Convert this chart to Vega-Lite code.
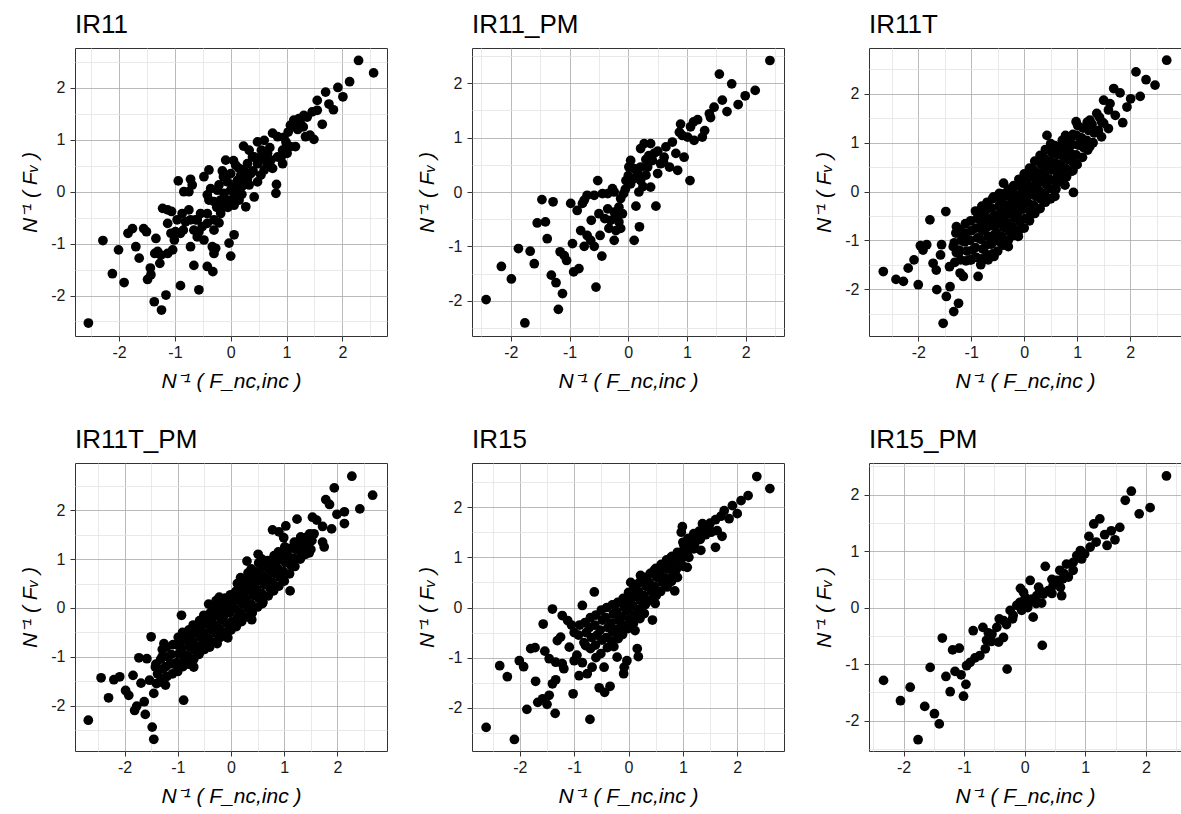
{
  "$schema": "https://vega.github.io/schema/vega-lite/v6.json",
  "background": "white",
  "padding": {"left": 19, "top": 11, "right": 0, "bottom": 0},
  "bounds": "flush",
  "columns": 3,
  "spacing": {"row": 127, "column": 85},
  "config": {
    "font": "Liberation Sans",
    "view": {"stroke": "#333333", "strokeWidth": 1},
    "title": {"anchor": "start", "frame": "group", "fontSize": 26, "fontWeight": "normal", "font": "Liberation Sans", "color": "#000000", "offset": 10},
    "axis": {
      "domain": false,
      "grid": true,
      "gridWidth": 0.8,
      "tickColor": "#333333",
      "tickSize": 5,
      "tickWidth": 1,
      "labelFont": "Liberation Sans",
      "labelColor": "#1a1a1a",
      "labelOverlap": false,
      "labelFlush": false,
      "titleFont": "Liberation Sans",
      "titleFontSize": 21,
      "titleFontStyle": "italic",
      "titleFontWeight": "normal",
      "titleColor": "#000000",
      "titlePadding": 10
    },
    "axisX": {"labelPadding": 3},
    "axisY": {"labelPadding": 5},
    "circle": {"color": "#000000", "opacity": 1, "size": 95}
  },
  "datasets": {
    "IR11": [
      {"x":-2.55,"y":-2.53},{"x":2.29,"y":2.53},{"x":2.56,"y":2.29},{"x":2.13,"y":2.12},{"x":1.92,"y":2.01},{"x":2.01,"y":1.83},{"x":1.70,"y":1.92},{"x":1.55,"y":1.76},{"x":1.76,"y":1.69},{"x":1.84,"y":1.58},{"x":1.64,"y":1.30},{"x":1.49,"y":1.01},{"x":1.42,"y":1.09},{"x":1.34,"y":1.06},{"x":1.46,"y":1.54},{"x":1.31,"y":1.47},{"x":1.22,"y":1.41},{"x":1.13,"y":1.38},{"x":1.07,"y":1.28},{"x":1.16,"y":1.25},{"x":1.25,"y":1.31},{"x":1.37,"y":1.44},{"x":1.55,"y":1.57},{"x":1.03,"y":1.15},{"x":1.07,"y":0.87},{"x":0.99,"y":0.96},{"x":0.93,"y":0.80},{"x":1.01,"y":0.74},{"x":1.16,"y":0.87},{"x":0.75,"y":1.13},{"x":0.84,"y":1.06},{"x":0.60,"y":0.99},{"x":0.48,"y":0.96},{"x":0.66,"y":0.74},{"x":0.54,"y":0.67},{"x":0.42,"y":0.67},{"x":0.48,"y":0.54},{"x":0.72,"y":0.61},{"x":0.84,"y":0.67},{"x":0.93,"y":0.54},{"x":0.75,"y":0.45},{"x":0.66,"y":0.51},{"x":0.23,"y":0.88},{"x":0.33,"y":0.80},{"x":0.30,"y":0.54},{"x":0.39,"y":0.67},{"x":0.36,"y":0.35},{"x":0.48,"y":0.19},{"x":0.33,"y":0.13},{"x":0.42,"y":-0.10},{"x":0.27,"y":-0.29},{"x":0.54,"y":0.32},{"x":0.60,"y":0.42},{"x":0.82,"y":0.14},{"x":0.81,"y":-0.03},{"x":-0.09,"y":0.61},{"x":0.09,"y":0.51},{"x":0.15,"y":0.45},{"x":0.0,"y":0.35},{"x":0.18,"y":0.32},{"x":0.12,"y":0.22},{"x":0.24,"y":0.42},{"x":0.06,"y":0.13},{"x":-0.06,"y":0.19},{"x":-0.13,"y":0.29},{"x":-0.21,"y":0.13},{"x":0.0,"y":0.03},{"x":0.06,"y":-0.10},{"x":-0.06,"y":-0.16},{"x":-0.12,"y":-0.03},{"x":-0.18,"y":-0.16},{"x":-0.24,"y":0.03},{"x":-0.30,"y":-0.19},{"x":-0.39,"y":-0.16},{"x":-0.42,"y":-0.06},{"x":-0.36,"y":0.06},{"x":-0.48,"y":0.29},{"x":-0.39,"y":0.42},{"x":-0.18,"y":-0.42},{"x":-0.12,"y":-0.29},{"x":0.06,"y":-0.26},{"x":0.15,"y":-0.16},{"x":-0.21,"y":-0.60},{"x":-0.30,"y":-0.54},{"x":-0.42,"y":-0.42},{"x":-0.54,"y":-0.42},{"x":-0.60,"y":-0.54},{"x":-0.51,"y":-0.67},{"x":-0.42,"y":-0.61},{"x":-0.30,"y":-0.74},{"x":-0.48,"y":-0.93},{"x":-0.57,"y":-0.77},{"x":-0.94,"y":0.21},{"x":-0.72,"y":0.24},{"x":-0.69,"y":0.13},{"x":-0.84,"y":0.0},{"x":-0.75,"y":0.0},{"x":-0.75,"y":-0.35},{"x":-0.87,"y":-0.42},{"x":-0.96,"y":-0.54},{"x":-0.81,"y":-0.58},{"x":-0.72,"y":-0.54},{"x":-0.63,"y":-0.54},{"x":-0.85,"y":-0.74},{"x":-0.99,"y":-0.77},{"x":-0.90,"y":-0.80},{"x":-1.01,"y":-0.93},{"x":-1.07,"y":-0.80},{"x":-1.13,"y":-0.61},{"x":-1.22,"y":-0.32},{"x":-1.13,"y":-0.35},{"x":-1.06,"y":-0.38},{"x":-0.72,"y":-1.06},{"x":-0.60,"y":-0.87},{"x":-0.66,"y":-0.74},{"x":-1.04,"y":-1.12},{"x":-1.13,"y":-1.19},{"x":-1.25,"y":-1.22},{"x":-1.31,"y":-1.15},{"x":-1.27,"y":-1.38},{"x":-1.36,"y":-1.19},{"x":-1.34,"y":-0.90},{"x":-1.51,"y":-0.77},{"x":-1.56,"y":-0.71},{"x":-1.76,"y":-0.71},{"x":-1.84,"y":-0.80},{"x":-1.70,"y":-1.06},{"x":-1.64,"y":-1.28},{"x":-2.01,"y":-1.12},{"x":-2.29,"y":-0.94},{"x":-2.12,"y":-1.58},{"x":-1.91,"y":-1.75},{"x":-1.49,"y":-1.69},{"x":-1.43,"y":-1.60},{"x":-1.44,"y":-1.47},{"x":-1.37,"y":-2.12},{"x":-1.24,"y":-2.28},{"x":-1.16,"y":-1.99},{"x":-0.90,"y":-1.81},{"x":-0.57,"y":-1.89},{"x":-0.66,"y":-1.42},{"x":-0.42,"y":-1.44},{"x":-0.32,"y":-1.54},{"x":-0.30,"y":-1.19},{"x":-0.27,"y":-1.09},{"x":-0.33,"y":-1.06},{"x":0.0,"y":-1.24},{"x":-0.03,"y":-0.99},{"x":0.06,"y":-0.83},
      {"x":0.2,"y":0.1},{"x":0.3,"y":0.25},{"x":0.1,"y":0.0},{"x":0.5,"y":0.6},{"x":0.6,"y":0.65},{"x":0.7,"y":0.85},{"x":0.9,"y":0.65},{"x":1.0,"y":0.9},{"x":0.55,"y":0.8},{"x":0.65,"y":0.55},{"x":-0.15,"y":0.4},{"x":0.05,"y":0.6},{"x":-0.05,"y":-0.3},{"x":-0.25,"y":-0.3},{"x":0.2,"y":-0.05},{"x":1.2,"y":1.2},{"x":1.3,"y":1.25},{"x":0.95,"y":1.05},{"x":0.4,"y":0.4},{"x":0.25,"y":0.25}
    ],
    "IR11_PM": [
      {"x":2.41,"y":2.42},{"x":1.55,"y":2.17},{"x":1.76,"y":1.99},{"x":2.16,"y":1.87},{"x":1.99,"y":1.77},{"x":1.87,"y":1.61},{"x":1.60,"y":1.69},{"x":1.68,"y":1.48},{"x":1.46,"y":1.56},{"x":1.38,"y":1.44},{"x":1.40,"y":1.37},{"x":1.18,"y":1.33},{"x":1.30,"y":1.13},{"x":1.26,"y":1.01},{"x":1.11,"y":1.29},{"x":1.06,"y":1.20},{"x":0.89,"y":1.25},{"x":0.87,"y":1.10},{"x":0.92,"y":1.04},{"x":1.01,"y":1.01},{"x":1.12,"y":0.95},{"x":1.05,"y":0.21},{"x":0.95,"y":0.64},{"x":0.75,"y":0.92},{"x":0.64,"y":0.83},{"x":0.61,"y":0.64},{"x":0.81,"y":0.71},{"x":0.84,"y":0.40},{"x":0.70,"y":0.46},{"x":0.55,"y":0.52},{"x":0.44,"y":0.71},{"x":0.38,"y":0.89},{"x":0.41,"y":0.58},{"x":0.50,"y":0.34},{"x":0.33,"y":0.46},{"x":0.27,"y":0.89},{"x":0.21,"y":0.80},{"x":0.35,"y":0.67},{"x":0.21,"y":0.46},{"x":0.10,"y":0.43},{"x":0.04,"y":0.58},{"x":0.01,"y":0.46},{"x":0.16,"y":0.34},{"x":0.10,"y":0.25},{"x":-0.04,"y":0.21},{"x":0.04,"y":0.15},{"x":0.21,"y":0.21},{"x":0.30,"y":0.31},{"x":0.38,"y":0.09},{"x":0.47,"y":-0.26},{"x":0.13,"y":-0.26},{"x":0.18,"y":0.0},{"x":0.19,"y":-0.64},{"x":0.10,"y":-0.89},{"x":-0.08,"y":-0.03},{"x":-0.13,"y":-0.12},{"x":-0.24,"y":0.0},{"x":-0.27,"y":0.06},{"x":-0.35,"y":-0.03},{"x":-0.44,"y":-0.03},{"x":-0.52,"y":0.21},{"x":-0.58,"y":-0.06},{"x":-0.70,"y":-0.06},{"x":-0.75,"y":-0.15},{"x":-0.78,"y":-0.21},{"x":-0.87,"y":-0.34},{"x":-0.98,"y":-0.21},{"x":-0.16,"y":-0.28},{"x":-0.24,"y":-0.37},{"x":-0.35,"y":-0.31},{"x":-0.40,"y":-0.49},{"x":-0.30,"y":-0.52},{"x":-0.10,"y":-0.40},{"x":-0.16,"y":-0.55},{"x":-0.13,"y":-0.67},{"x":-0.21,"y":-0.71},{"x":-0.33,"y":-0.67},{"x":-0.24,"y":-0.89},{"x":-0.63,"y":-0.52},{"x":-0.81,"y":-0.71},{"x":-0.70,"y":-0.80},{"x":-0.64,"y":-0.89},{"x":-0.75,"y":-1.0},{"x":-0.58,"y":-1.0},{"x":-0.48,"y":-0.80},{"x":-0.95,"y":-0.95},{"x":-0.45,"y":-1.18},{"x":-0.55,"y":-1.75},{"x":-1.47,"y":-0.14},{"x":-1.28,"y":-0.18},{"x":-1.55,"y":-0.57},{"x":-1.41,"y":-0.55},{"x":-1.38,"y":-0.86},{"x":-1.16,"y":-1.10},{"x":-1.09,"y":-1.17},{"x":-1.05,"y":-1.26},{"x":-0.93,"y":-1.47},{"x":-0.84,"y":-1.41},{"x":-1.31,"y":-1.53},{"x":-1.23,"y":-1.67},{"x":-1.12,"y":-1.87},{"x":-1.19,"y":-2.16},{"x":-1.67,"y":-1.09},{"x":-1.60,"y":-1.32},{"x":-1.87,"y":-1.04},{"x":-2.16,"y":-1.37},{"x":-1.99,"y":-1.60},{"x":-2.42,"y":-1.98},{"x":-1.76,"y":-2.41},
      {"x":0.6,"y":0.55},{"x":0.5,"y":0.75},{"x":0.3,"y":0.6},{"x":0.0,"y":0.3},{"x":-0.05,"y":0.05},{"x":0.25,"y":0.1},{"x":-0.2,"y":-0.45},{"x":-0.5,"y":-0.4}
    ],
    "IR11T": [
      {"x":2.69,"y":2.69},{"x":2.11,"y":2.45},{"x":2.30,"y":2.29},{"x":2.47,"y":2.18},{"x":2.19,"y":1.95},{"x":2.01,"y":1.90},{"x":1.94,"y":1.73},{"x":1.69,"y":2.11},{"x":1.81,"y":2.02},{"x":1.86,"y":1.41},{"x":1.72,"y":1.56},{"x":1.50,"y":1.87},{"x":1.62,"y":1.80},{"x":1.59,"y":1.67},{"x":1.37,"y":1.60},{"x":1.46,"y":1.43},{"x":1.59,"y":1.29},{"x":1.46,"y":1.12},{"x":1.24,"y":0.92},{"x":1.24,"y":1.46},{"x":0.98,"y":1.43},{"x":0.92,"y":1.17},{"x":1.06,"y":1.05},{"x":0.94,"y":0.68},{"x":0.92,"y":0.43},{"x":0.80,"y":0.98},{"x":0.68,"y":0.92},{"x":0.43,"y":1.15},{"x":0.93,"y":-0.02},{"x":0.77,"y":0.13},{"x":0.61,"y":0.27},{"x":0.58,"y":-0.10},{"x":0.46,"y":-0.14},{"x":0.17,"y":-0.45},{"x":-0.11,"y":-0.92},{"x":-0.30,"y":-1.13},{"x":-0.39,"y":0.17},{"x":-0.58,"y":-0.11},{"x":-0.57,"y":-1.33},{"x":-0.68,"y":-1.40},{"x":-0.87,"y":-1.74},{"x":-0.82,"y":-1.50},{"x":-1.02,"y":-1.40},{"x":-1.15,"y":-1.74},{"x":-1.21,"y":-1.67},{"x":-1.24,"y":-2.29},{"x":-1.33,"y":-2.46},{"x":-1.40,"y":-1.95},{"x":-1.47,"y":-2.15},{"x":-1.53,"y":-2.70},{"x":-1.65,"y":-2.01},{"x":-1.41,"y":-1.54},{"x":-1.58,"y":-1.30},{"x":-1.56,"y":-1.09},{"x":-1.48,"y":-0.41},{"x":-1.78,"y":-0.58},{"x":-1.72,"y":-1.47},{"x":-1.66,"y":-1.61},{"x":-1.84,"y":-1.09},{"x":-1.91,"y":-1.20},{"x":-1.96,"y":-1.11},{"x":-2.08,"y":-1.40},{"x":-2.19,"y":-1.57},{"x":-2.00,"y":-1.91},{"x":-2.28,"y":-1.84},{"x":-2.42,"y":-1.80},{"x":-2.66,"y":-1.64},{"x":-1.34,"y":-1.13},{"x":-1.24,"y":-1.26},{"x":-1.28,"y":-0.72},{"x":-1.15,"y":-0.86},
      {"x":-1.31,"y":-1.45},{"x":-1.28,"y":-1.25},{"x":-1.32,"y":-1.05},{"x":-1.29,"y":-0.85},
      {"x":-1.2,"y":-1.4},{"x":-1.22,"y":-1.2},{"x":-1.19,"y":-1.0},{"x":-1.21,"y":-0.8},
      {"x":-1.1,"y":-1.42},{"x":-1.08,"y":-1.22},{"x":-1.12,"y":-1.03},{"x":-1.09,"y":-0.85},{"x":-1.11,"y":-0.66},
      {"x":-1.0,"y":-1.4},{"x":-0.98,"y":-1.2},{"x":-1.02,"y":-1.0},{"x":-0.99,"y":-0.8},{"x":-1.01,"y":-0.6},
      {"x":-0.9,"y":-1.35},{"x":-0.92,"y":-1.15},{"x":-0.88,"y":-0.95},{"x":-0.91,"y":-0.75},{"x":-0.89,"y":-0.55},{"x":-0.92,"y":-0.4},
      {"x":-0.8,"y":-1.38},{"x":-0.78,"y":-1.18},{"x":-0.82,"y":-0.98},{"x":-0.79,"y":-0.8},{"x":-0.81,"y":-0.62},{"x":-0.78,"y":-0.45},{"x":-0.8,"y":-0.3},
      {"x":-0.7,"y":-1.3},{"x":-0.72,"y":-1.1},{"x":-0.68,"y":-0.92},{"x":-0.71,"y":-0.74},{"x":-0.69,"y":-0.56},{"x":-0.72,"y":-0.38},{"x":-0.7,"y":-0.22},
      {"x":-0.6,"y":-1.28},{"x":-0.62,"y":-1.08},{"x":-0.58,"y":-0.9},{"x":-0.61,"y":-0.7},{"x":-0.59,"y":-0.52},{"x":-0.62,"y":-0.34},{"x":-0.6,"y":-0.15},
      {"x":-0.5,"y":-1.22},{"x":-0.48,"y":-1.02},{"x":-0.52,"y":-0.84},{"x":-0.49,"y":-0.66},{"x":-0.51,"y":-0.48},{"x":-0.48,"y":-0.3},{"x":-0.5,"y":-0.12},{"x":-0.47,"y":-0.04},
      {"x":-0.4,"y":-1.1},{"x":-0.42,"y":-0.92},{"x":-0.38,"y":-0.74},{"x":-0.41,"y":-0.56},{"x":-0.39,"y":-0.38},{"x":-0.42,"y":-0.2},{"x":-0.4,"y":-0.05},
      {"x":-0.3,"y":-1.0},{"x":-0.28,"y":-0.82},{"x":-0.32,"y":-0.64},{"x":-0.29,"y":-0.46},{"x":-0.31,"y":-0.28},{"x":-0.28,"y":-0.1},{"x":-0.3,"y":0.05},
      {"x":-0.2,"y":-0.9},{"x":-0.22,"y":-0.72},{"x":-0.18,"y":-0.54},{"x":-0.21,"y":-0.36},{"x":-0.19,"y":-0.18},{"x":-0.22,"y":0.0},{"x":-0.2,"y":0.12},
      {"x":-0.1,"y":-0.8},{"x":-0.08,"y":-0.62},{"x":-0.12,"y":-0.44},{"x":-0.09,"y":-0.26},{"x":-0.11,"y":-0.08},{"x":-0.08,"y":0.1},{"x":-0.1,"y":0.25},
      {"x":0.0,"y":-0.75},{"x":0.02,"y":-0.55},{"x":-0.02,"y":-0.36},{"x":0.01,"y":-0.18},{"x":-0.01,"y":0.0},{"x":0.02,"y":0.18},{"x":0.0,"y":0.36},
      {"x":0.1,"y":-0.6},{"x":0.12,"y":-0.42},{"x":0.08,"y":-0.24},{"x":0.11,"y":-0.06},{"x":0.09,"y":0.12},{"x":0.12,"y":0.3},{"x":0.1,"y":0.48},
      {"x":0.2,"y":-0.45},{"x":0.18,"y":-0.28},{"x":0.22,"y":-0.1},{"x":0.19,"y":0.08},{"x":0.21,"y":0.26},{"x":0.18,"y":0.44},{"x":0.2,"y":0.62},
      {"x":0.3,"y":-0.35},{"x":0.32,"y":-0.16},{"x":0.28,"y":0.02},{"x":0.31,"y":0.2},{"x":0.29,"y":0.38},{"x":0.32,"y":0.56},{"x":0.3,"y":0.74},
      {"x":0.4,"y":-0.22},{"x":0.38,"y":-0.04},{"x":0.42,"y":0.14},{"x":0.39,"y":0.32},{"x":0.41,"y":0.5},{"x":0.38,"y":0.68},{"x":0.4,"y":0.86},
      {"x":0.5,"y":-0.15},{"x":0.52,"y":0.05},{"x":0.48,"y":0.25},{"x":0.51,"y":0.44},{"x":0.49,"y":0.62},{"x":0.52,"y":0.8},{"x":0.5,"y":0.98},
      {"x":0.6,"y":0.05},{"x":0.58,"y":0.22},{"x":0.62,"y":0.4},{"x":0.59,"y":0.58},{"x":0.61,"y":0.76},{"x":0.58,"y":0.94},
      {"x":0.7,"y":0.2},{"x":0.72,"y":0.38},{"x":0.68,"y":0.56},{"x":0.71,"y":0.74},{"x":0.69,"y":0.92},{"x":0.72,"y":1.05},
      {"x":0.8,"y":0.3},{"x":0.78,"y":0.48},{"x":0.82,"y":0.66},{"x":0.79,"y":0.84},{"x":0.81,"y":1.0},{"x":0.78,"y":1.15},
      {"x":0.9,"y":0.42},{"x":0.92,"y":0.6},{"x":0.88,"y":0.78},{"x":0.91,"y":0.96},{"x":0.89,"y":1.12},
      {"x":1.0,"y":0.55},{"x":0.98,"y":0.75},{"x":1.02,"y":0.95},{"x":0.99,"y":1.15},{"x":1.01,"y":1.35},
      {"x":1.1,"y":0.7},{"x":1.12,"y":0.9},{"x":1.08,"y":1.1},{"x":1.11,"y":1.3},
      {"x":1.2,"y":0.85},{"x":1.18,"y":1.05},{"x":1.22,"y":1.25},{"x":1.19,"y":1.42},
      {"x":1.3,"y":1.0},{"x":1.32,"y":1.2},{"x":1.28,"y":1.38},{"x":1.4,"y":1.25},{"x":1.5,"y":1.4},{"x":1.42,"y":1.52}
    ],
    "IR11T_PM": [
      {"x":2.27,"y":2.70},{"x":2.66,"y":2.31},{"x":2.42,"y":2.03},{"x":1.94,"y":2.46},{"x":1.78,"y":2.22},{"x":1.85,"y":2.12},{"x":2.13,"y":1.97},{"x":1.99,"y":1.92},{"x":2.13,"y":1.73},{"x":1.89,"y":1.62},{"x":1.72,"y":1.67},{"x":1.53,"y":1.86},{"x":1.61,"y":1.80},{"x":1.24,"y":1.82},{"x":1.03,"y":1.68},{"x":0.78,"y":1.60},{"x":0.90,"y":1.56},{"x":0.99,"y":1.44},{"x":1.56,"y":1.52},{"x":1.31,"y":1.45},{"x":1.44,"y":1.32},{"x":1.72,"y":1.35},{"x":1.75,"y":1.25},{"x":1.47,"y":1.13},{"x":1.31,"y":1.04},{"x":1.19,"y":1.22},{"x":1.11,"y":0.35},{"x":0.99,"y":0.57},{"x":0.59,"y":0.09},{"x":0.39,"y":-0.24},{"x":0.30,"y":0.96},{"x":0.51,"y":1.10},{"x":-0.06,"y":-0.61},{"x":-0.26,"y":-0.73},{"x":-0.70,"y":-1.21},{"x":-0.93,"y":-0.15},{"x":-0.89,"y":-1.89},{"x":-1.50,"y":-0.59},{"x":-1.73,"y":-1.02},{"x":-1.58,"y":-1.04},{"x":-1.42,"y":-1.21},{"x":-1.34,"y":-1.52},{"x":-1.45,"y":-1.75},{"x":-1.23,"y":-1.58},{"x":-1.53,"y":-1.48},{"x":-1.69,"y":-1.54},{"x":-1.84,"y":-1.38},{"x":-1.63,"y":-1.92},{"x":-1.77,"y":-2.01},{"x":-1.81,"y":-2.10},{"x":-1.61,"y":-2.18},{"x":-1.48,"y":-2.44},{"x":-1.45,"y":-2.69},{"x":-1.92,"y":-1.79},{"x":-1.98,"y":-1.69},{"x":-2.09,"y":-1.41},{"x":-2.20,"y":-1.47},{"x":-2.44,"y":-1.43},{"x":-2.30,"y":-1.84},{"x":-2.68,"y":-2.30},{"x":-1.26,"y":-0.73},{"x":-1.29,"y":-1.0},{"x":-1.14,"y":-1.14},
      {"x":-1.4,"y":-1.55},{"x":-1.38,"y":-1.35},{"x":-1.41,"y":-1.15},
      {"x":-1.3,"y":-1.45},{"x":-1.28,"y":-1.25},{"x":-1.32,"y":-1.05},{"x":-1.29,"y":-0.85},
      {"x":-1.2,"y":-1.4},{"x":-1.22,"y":-1.2},{"x":-1.18,"y":-1.0},{"x":-1.21,"y":-0.8},
      {"x":-1.1,"y":-1.35},{"x":-1.08,"y":-1.15},{"x":-1.12,"y":-0.95},{"x":-1.09,"y":-0.75},
      {"x":-1.0,"y":-1.3},{"x":-1.02,"y":-1.12},{"x":-0.98,"y":-0.94},{"x":-1.01,"y":-0.76},{"x":-0.99,"y":-0.6},
      {"x":-0.9,"y":-1.2},{"x":-0.88,"y":-1.02},{"x":-0.92,"y":-0.84},{"x":-0.89,"y":-0.66},{"x":-0.91,"y":-0.5},
      {"x":-0.8,"y":-1.15},{"x":-0.82,"y":-0.97},{"x":-0.78,"y":-0.79},{"x":-0.81,"y":-0.61},{"x":-0.79,"y":-0.45},
      {"x":-0.7,"y":-1.05},{"x":-0.68,"y":-0.87},{"x":-0.72,"y":-0.69},{"x":-0.69,"y":-0.51},{"x":-0.71,"y":-0.35},
      {"x":-0.6,"y":-0.95},{"x":-0.62,"y":-0.78},{"x":-0.58,"y":-0.6},{"x":-0.61,"y":-0.42},{"x":-0.59,"y":-0.26},
      {"x":-0.5,"y":-0.85},{"x":-0.48,"y":-0.68},{"x":-0.52,"y":-0.5},{"x":-0.49,"y":-0.32},{"x":-0.51,"y":-0.15},
      {"x":-0.4,"y":-0.8},{"x":-0.42,"y":-0.62},{"x":-0.38,"y":-0.44},{"x":-0.41,"y":-0.26},{"x":-0.39,"y":-0.1},{"x":-0.42,"y":0.08},
      {"x":-0.3,"y":-0.7},{"x":-0.28,"y":-0.52},{"x":-0.32,"y":-0.34},{"x":-0.29,"y":-0.16},{"x":-0.31,"y":0.02},{"x":-0.28,"y":0.15},
      {"x":-0.2,"y":-0.6},{"x":-0.22,"y":-0.42},{"x":-0.18,"y":-0.24},{"x":-0.21,"y":-0.06},{"x":-0.19,"y":0.1},{"x":-0.22,"y":0.22},
      {"x":-0.1,"y":-0.5},{"x":-0.08,"y":-0.32},{"x":-0.12,"y":-0.14},{"x":-0.09,"y":0.04},{"x":-0.11,"y":0.2},
      {"x":0.0,"y":-0.45},{"x":0.02,"y":-0.27},{"x":-0.02,"y":-0.09},{"x":0.01,"y":0.09},{"x":-0.01,"y":0.27},
      {"x":0.1,"y":-0.38},{"x":0.12,"y":-0.2},{"x":0.08,"y":-0.02},{"x":0.11,"y":0.16},{"x":0.09,"y":0.34},{"x":0.12,"y":0.5},
      {"x":0.2,"y":-0.28},{"x":0.18,"y":-0.1},{"x":0.22,"y":0.08},{"x":0.19,"y":0.26},{"x":0.21,"y":0.44},{"x":0.18,"y":0.62},
      {"x":0.3,"y":-0.18},{"x":0.32,"y":0.0},{"x":0.28,"y":0.18},{"x":0.31,"y":0.36},{"x":0.29,"y":0.54},{"x":0.32,"y":0.72},
      {"x":0.4,"y":-0.1},{"x":0.38,"y":0.08},{"x":0.42,"y":0.26},{"x":0.39,"y":0.44},{"x":0.41,"y":0.62},{"x":0.38,"y":0.8},
      {"x":0.5,"y":0.02},{"x":0.52,"y":0.2},{"x":0.48,"y":0.38},{"x":0.51,"y":0.56},{"x":0.49,"y":0.74},{"x":0.52,"y":0.92},
      {"x":0.6,"y":0.12},{"x":0.58,"y":0.3},{"x":0.62,"y":0.48},{"x":0.59,"y":0.66},{"x":0.61,"y":0.84},{"x":0.58,"y":1.0},
      {"x":0.7,"y":0.25},{"x":0.72,"y":0.43},{"x":0.68,"y":0.61},{"x":0.71,"y":0.79},{"x":0.69,"y":0.97},
      {"x":0.8,"y":0.35},{"x":0.78,"y":0.53},{"x":0.82,"y":0.71},{"x":0.79,"y":0.89},{"x":0.81,"y":1.07},
      {"x":0.9,"y":0.45},{"x":0.92,"y":0.63},{"x":0.88,"y":0.81},{"x":0.91,"y":0.99},{"x":0.89,"y":1.15},
      {"x":1.0,"y":0.55},{"x":0.98,"y":0.75},{"x":1.02,"y":0.93},{"x":0.99,"y":1.1},{"x":1.01,"y":1.25},
      {"x":1.1,"y":0.7},{"x":1.12,"y":0.88},{"x":1.08,"y":1.05},{"x":1.11,"y":1.22},
      {"x":1.2,"y":0.85},{"x":1.18,"y":1.02},{"x":1.22,"y":1.2},{"x":1.19,"y":1.35},
      {"x":1.3,"y":1.0},{"x":1.32,"y":1.15},{"x":1.28,"y":1.3},{"x":1.31,"y":1.45},
      {"x":1.4,"y":1.1},{"x":1.38,"y":1.28},{"x":1.42,"y":1.45},
      {"x":1.5,"y":1.2},{"x":1.52,"y":1.38},{"x":1.48,"y":1.52}
    ],
    "IR15": [
      {"x":2.36,"y":2.61},{"x":2.60,"y":2.37},{"x":2.20,"y":2.23},{"x":2.07,"y":2.13},{"x":1.91,"y":2.03},{"x":2.00,"y":1.87},{"x":1.85,"y":1.77},{"x":1.76,"y":1.93},{"x":1.72,"y":1.42},{"x":1.60,"y":1.20},{"x":1.63,"y":1.53},{"x":1.48,"y":1.57},{"x":1.36,"y":1.67},{"x":0.99,"y":1.61},{"x":0.97,"y":1.50},{"x":1.20,"y":1.47},{"x":1.08,"y":1.34},{"x":1.02,"y":1.24},{"x":1.20,"y":1.17},{"x":1.33,"y":1.14},{"x":1.11,"y":1.00},{"x":1.08,"y":0.80},{"x":0.90,"y":0.60},{"x":0.85,"y":0.33},{"x":0.78,"y":1.00},{"x":0.65,"y":0.80},{"x":0.47,"y":0.74},{"x":0.22,"y":0.64},{"x":0.04,"y":0.50},{"x":0.44,"y":-0.25},{"x":0.12,"y":-0.46},{"x":0.16,"y":-0.82},{"x":0.18,"y":-0.98},{"x":-0.08,"y":-1.19},{"x":-0.03,"y":-1.06},{"x":-0.09,"y":-1.32},{"x":-0.21,"y":-0.99},{"x":-0.27,"y":-0.78},{"x":-0.45,"y":-1.19},{"x":-0.71,"y":-2.23},{"x":-0.34,"y":-1.57},{"x":-0.44,"y":-1.69},{"x":-0.54,"y":-1.60},{"x":-0.63,"y":0.31},{"x":-0.85,"y":0.04},{"x":-1.40,"y":-0.03},{"x":-1.57,"y":-0.33},{"x":-1.22,"y":-0.16},{"x":-1.12,"y":-0.26},{"x":-1.31,"y":-0.66},{"x":-1.25,"y":-0.59},{"x":-1.09,"y":-0.79},{"x":-1.54,"y":-0.87},{"x":-1.46,"y":-1.02},{"x":-1.34,"y":-1.09},{"x":-1.22,"y":-1.12},{"x":-1.19,"y":-1.22},{"x":-1.00,"y":-1.06},{"x":-0.91,"y":-1.36},{"x":-1.02,"y":-1.72},{"x":-1.34,"y":-1.44},{"x":-1.40,"y":-1.52},{"x":-1.35,"y":-2.11},{"x":-1.46,"y":-1.75},{"x":-1.58,"y":-1.82},{"x":-1.67,"y":-1.89},{"x":-1.50,"y":-1.93},{"x":-1.87,"y":-2.03},{"x":-1.71,"y":-1.47},{"x":-1.80,"y":-0.82},{"x":-1.72,"y":-0.80},{"x":-2.01,"y":-1.06},{"x":-1.93,"y":-1.18},{"x":-2.37,"y":-1.16},{"x":-2.23,"y":-1.38},{"x":-2.62,"y":-2.39},{"x":-2.10,"y":-2.63},{"x":-0.79,"y":-0.76},{"x":-0.70,"y":-0.82},{"x":-0.51,"y":-0.92},{"x":-0.67,"y":-1.19},{"x":-0.76,"y":-1.32},{"x":-0.95,"y":-0.95},{"x":-0.85,"y":-1.1},{"x":-0.6,"y":-1.0},{"x":-1.0,"y":-0.5},{"x":-1.05,"y":-0.35},
      {"x":-0.9,"y":-0.35},{"x":-0.92,"y":-0.55},
      {"x":-0.8,"y":-0.3},{"x":-0.78,"y":-0.5},{"x":-0.82,"y":-0.7},
      {"x":-0.7,"y":-0.2},{"x":-0.72,"y":-0.4},{"x":-0.68,"y":-0.6},
      {"x":-0.6,"y":-0.15},{"x":-0.62,"y":-0.35},{"x":-0.58,"y":-0.55},{"x":-0.61,"y":-0.75},
      {"x":-0.5,"y":-0.05},{"x":-0.48,"y":-0.25},{"x":-0.52,"y":-0.45},{"x":-0.49,"y":-0.65},
      {"x":-0.4,"y":0.0},{"x":-0.42,"y":-0.2},{"x":-0.38,"y":-0.4},{"x":-0.41,"y":-0.6},{"x":-0.39,"y":-0.8},
      {"x":-0.3,"y":0.05},{"x":-0.28,"y":-0.13},{"x":-0.32,"y":-0.31},{"x":-0.29,"y":-0.49},{"x":-0.31,"y":-0.67},
      {"x":-0.2,"y":0.1},{"x":-0.22,"y":-0.08},{"x":-0.18,"y":-0.26},{"x":-0.21,"y":-0.44},{"x":-0.19,"y":-0.62},
      {"x":-0.1,"y":0.18},{"x":-0.08,"y":0.0},{"x":-0.12,"y":-0.18},{"x":-0.09,"y":-0.36},{"x":-0.11,"y":-0.54},
      {"x":0.0,"y":0.3},{"x":0.02,"y":0.12},{"x":-0.02,"y":-0.06},{"x":0.01,"y":-0.24},{"x":-0.01,"y":-0.42},
      {"x":0.1,"y":0.4},{"x":0.12,"y":0.22},{"x":0.08,"y":0.04},{"x":0.11,"y":-0.14},{"x":0.09,"y":-0.32},
      {"x":0.2,"y":0.5},{"x":0.18,"y":0.32},{"x":0.22,"y":0.14},{"x":0.19,"y":-0.04},{"x":0.21,"y":-0.22},
      {"x":0.3,"y":0.6},{"x":0.32,"y":0.42},{"x":0.28,"y":0.24},{"x":0.31,"y":0.06},{"x":0.29,"y":-0.12},
      {"x":0.4,"y":0.68},{"x":0.38,"y":0.5},{"x":0.42,"y":0.32},{"x":0.39,"y":0.14},
      {"x":0.5,"y":0.78},{"x":0.52,"y":0.6},{"x":0.48,"y":0.42},{"x":0.51,"y":0.24},{"x":0.49,"y":0.08},
      {"x":0.6,"y":0.86},{"x":0.58,"y":0.68},{"x":0.62,"y":0.5},{"x":0.59,"y":0.32},
      {"x":0.7,"y":0.95},{"x":0.72,"y":0.77},{"x":0.68,"y":0.59},{"x":0.71,"y":0.41},
      {"x":0.8,"y":1.02},{"x":0.78,"y":0.85},{"x":0.82,"y":0.68},{"x":0.79,"y":0.52},
      {"x":0.9,"y":1.1},{"x":0.92,"y":0.93},{"x":0.88,"y":0.76},
      {"x":1.0,"y":1.3},{"x":1.02,"y":1.15},{"x":0.98,"y":0.98},{"x":1.01,"y":0.82},
      {"x":1.1,"y":1.38},{"x":1.12,"y":1.22},{"x":1.08,"y":1.06},
      {"x":1.2,"y":1.42},{"x":1.22,"y":1.28},
      {"x":1.3,"y":1.52},{"x":1.32,"y":1.36},
      {"x":1.4,"y":1.6},{"x":1.42,"y":1.45},
      {"x":1.5,"y":1.68},{"x":1.52,"y":1.5},
      {"x":1.6,"y":1.75},{"x":1.7,"y":1.82}
    ],
    "IR15_PM": [
      {"x":2.34,"y":2.33},{"x":1.76,"y":2.06},{"x":1.66,"y":1.90},{"x":2.07,"y":1.77},{"x":1.89,"y":1.66},{"x":1.57,"y":1.42},{"x":1.43,"y":1.36},{"x":1.32,"y":1.29},{"x":1.49,"y":1.20},{"x":1.36,"y":1.10},{"x":1.24,"y":1.57},{"x":1.14,"y":1.48},{"x":1.06,"y":1.26},{"x":1.18,"y":1.16},{"x":1.08,"y":1.07},{"x":0.99,"y":0.95},{"x":0.92,"y":1.01},{"x":0.86,"y":0.92},{"x":0.94,"y":0.86},{"x":0.80,"y":0.80},{"x":0.69,"y":0.77},{"x":0.80,"y":0.66},{"x":0.72,"y":0.54},{"x":0.58,"y":0.66},{"x":0.63,"y":0.51},{"x":0.53,"y":0.48},{"x":0.34,"y":0.73},{"x":0.47,"y":0.39},{"x":0.39,"y":0.30},{"x":0.59,"y":0.36},{"x":0.61,"y":0.21},{"x":0.31,"y":0.24},{"x":0.23,"y":0.36},{"x":0.20,"y":0.21},{"x":0.09,"y":0.48},{"x":-0.07,"y":0.34},{"x":-0.02,"y":0.27},{"x":0.01,"y":0.18},{"x":0.03,"y":0.09},{"x":-0.08,"y":0.09},{"x":-0.13,"y":0.04},{"x":0.12,"y":0.15},{"x":0.19,"y":0.07},{"x":0.28,"y":0.08},{"x":0.14,"y":-0.17},{"x":-0.24,"y":-0.05},{"x":-0.19,"y":-0.14},{"x":-0.35,"y":-0.23},{"x":-0.42,"y":-0.20},{"x":-0.46,"y":-0.35},{"x":-0.35,"y":-0.53},{"x":-0.43,"y":-0.61},{"x":-0.54,"y":-0.47},{"x":-0.63,"y":-0.58},{"x":-0.69,"y":-0.35},{"x":-0.85,"y":-0.41},{"x":-0.65,"y":-0.73},{"x":-0.74,"y":-0.85},{"x":-0.82,"y":-0.89},{"x":-0.90,"y":-0.97},{"x":-0.96,"y":-1.03},{"x":-0.29,"y":-1.09},{"x":0.29,"y":-0.67},{"x":-1.36,"y":-0.54},{"x":-1.19,"y":-0.75},{"x":-1.08,"y":-0.72},{"x":-1.56,"y":-1.06},{"x":-1.30,"y":-1.22},{"x":-1.15,"y":-1.13},{"x":-1.05,"y":-1.19},{"x":-0.97,"y":-1.36},{"x":-1.23,"y":-1.49},{"x":-1.01,"y":-1.57},{"x":-1.89,"y":-1.41},{"x":-2.05,"y":-1.65},{"x":-2.33,"y":-1.29},{"x":-1.65,"y":-1.75},{"x":-1.49,"y":-1.88},{"x":-1.41,"y":-2.06},{"x":-1.76,"y":-2.34},
      {"x":0.05,"y":0.0},{"x":-0.05,"y":-0.05},{"x":0.15,"y":0.12},{"x":0.4,"y":0.3},{"x":0.45,"y":0.5},{"x":0.55,"y":0.45},{"x":0.65,"y":0.6},{"x":-0.2,"y":-0.2},{"x":-0.3,"y":-0.3},{"x":0.25,"y":0.3},{"x":-0.55,"y":-0.6},{"x":-0.6,"y":-0.45},{"x":0.45,"y":0.25}
    ]
  },
  "concat": [
    {
      "width": 312, "height": 288,
      "title": {"text": "IR11"},
      "data": {"name": "IR11"},
      "mark": {"type": "circle"},
      "encoding": {
        "x": {"field": "x", "type": "quantitative", "scale": {"domain": [-2.79, 2.80], "nice": false, "zero": false},
          "axis": {"title": "N⁻¹ ( F_nc,inc )", "values": [-2.5,-2,-1.5,-1,-0.5,0,0.5,1,1.5,2,2.5],
            "gridColor": {"condition": {"test": "datum.value % 1 === 0", "value": "#a8a8a8"}, "value": "#e3e3e3"},
            "tickOpacity": {"condition": {"test": "datum.value % 1 === 0", "value": 1}, "value": 0},
            "labelFontSize": {"condition": {"test": "datum.value % 1 === 0", "value": 16}, "value": 0},
            "labelExpr": "datum.value % 1 === 0 ? toString(datum.value) : ''"}},
        "y": {"field": "y", "type": "quantitative", "scale": {"domain": [-2.78, 2.77], "nice": false, "zero": false},
          "axis": {"title": "N⁻¹ ( Fᵥ )", "values": [-2.5,-2,-1.5,-1,-0.5,0,0.5,1,1.5,2,2.5],
            "gridColor": {"condition": {"test": "datum.value % 1 === 0", "value": "#a8a8a8"}, "value": "#e3e3e3"},
            "tickOpacity": {"condition": {"test": "datum.value % 1 === 0", "value": 1}, "value": 0},
            "labelFontSize": {"condition": {"test": "datum.value % 1 === 0", "value": 16}, "value": 0},
            "labelExpr": "datum.value % 1 === 0 ? toString(datum.value) : ''"}}
      }
    },
    {
      "width": 312, "height": 288,
      "title": {"text": "IR11_PM"},
      "data": {"name": "IR11_PM"},
      "mark": {"type": "circle"},
      "encoding": {
        "x": {"field": "x", "type": "quantitative", "scale": {"domain": [-2.66, 2.65], "nice": false, "zero": false},
          "axis": {"title": "N⁻¹ ( F_nc,inc )", "values": [-2.5,-2,-1.5,-1,-0.5,0,0.5,1,1.5,2,2.5],
            "gridColor": {"condition": {"test": "datum.value % 1 === 0", "value": "#a8a8a8"}, "value": "#e3e3e3"},
            "tickOpacity": {"condition": {"test": "datum.value % 1 === 0", "value": 1}, "value": 0},
            "labelFontSize": {"condition": {"test": "datum.value % 1 === 0", "value": 16}, "value": 0},
            "labelExpr": "datum.value % 1 === 0 ? toString(datum.value) : ''"}},
        "y": {"field": "y", "type": "quantitative", "scale": {"domain": [-2.65, 2.65], "nice": false, "zero": false},
          "axis": {"title": "N⁻¹ ( Fᵥ )", "values": [-2.5,-2,-1.5,-1,-0.5,0,0.5,1,1.5,2,2.5],
            "gridColor": {"condition": {"test": "datum.value % 1 === 0", "value": "#a8a8a8"}, "value": "#e3e3e3"},
            "tickOpacity": {"condition": {"test": "datum.value % 1 === 0", "value": 1}, "value": 0},
            "labelFontSize": {"condition": {"test": "datum.value % 1 === 0", "value": 16}, "value": 0},
            "labelExpr": "datum.value % 1 === 0 ? toString(datum.value) : ''"}}
      }
    },
    {
      "width": 312, "height": 288,
      "title": {"text": "IR11T"},
      "data": {"name": "IR11T"},
      "mark": {"type": "circle"},
      "encoding": {
        "x": {"field": "x", "type": "quantitative", "scale": {"domain": [-2.93, 2.96], "nice": false, "zero": false},
          "axis": {"title": "N⁻¹ ( F_nc,inc )", "values": [-2.5,-2,-1.5,-1,-0.5,0,0.5,1,1.5,2,2.5],
            "gridColor": {"condition": {"test": "datum.value % 1 === 0", "value": "#a8a8a8"}, "value": "#e3e3e3"},
            "tickOpacity": {"condition": {"test": "datum.value % 1 === 0", "value": 1}, "value": 0},
            "labelFontSize": {"condition": {"test": "datum.value % 1 === 0", "value": 16}, "value": 0},
            "labelExpr": "datum.value % 1 === 0 ? toString(datum.value) : ''"}},
        "y": {"field": "y", "type": "quantitative", "scale": {"domain": [-2.96, 2.94], "nice": false, "zero": false},
          "axis": {"title": "N⁻¹ ( Fᵥ )", "values": [-2.5,-2,-1.5,-1,-0.5,0,0.5,1,1.5,2,2.5],
            "gridColor": {"condition": {"test": "datum.value % 1 === 0", "value": "#a8a8a8"}, "value": "#e3e3e3"},
            "tickOpacity": {"condition": {"test": "datum.value % 1 === 0", "value": 1}, "value": 0},
            "labelFontSize": {"condition": {"test": "datum.value % 1 === 0", "value": 16}, "value": 0},
            "labelExpr": "datum.value % 1 === 0 ? toString(datum.value) : ''"}}
      }
    },
    {
      "width": 312, "height": 288,
      "title": {"text": "IR11T_PM"},
      "data": {"name": "IR11T_PM"},
      "mark": {"type": "circle"},
      "encoding": {
        "x": {"field": "x", "type": "quantitative", "scale": {"domain": [-2.93, 2.93], "nice": false, "zero": false},
          "axis": {"title": "N⁻¹ ( F_nc,inc )", "values": [-2.5,-2,-1.5,-1,-0.5,0,0.5,1,1.5,2,2.5],
            "gridColor": {"condition": {"test": "datum.value % 1 === 0", "value": "#a8a8a8"}, "value": "#e3e3e3"},
            "tickOpacity": {"condition": {"test": "datum.value % 1 === 0", "value": 1}, "value": 0},
            "labelFontSize": {"condition": {"test": "datum.value % 1 === 0", "value": 16}, "value": 0},
            "labelExpr": "datum.value % 1 === 0 ? toString(datum.value) : ''"}},
        "y": {"field": "y", "type": "quantitative", "scale": {"domain": [-2.93, 2.97], "nice": false, "zero": false},
          "axis": {"title": "N⁻¹ ( Fᵥ )", "values": [-2.5,-2,-1.5,-1,-0.5,0,0.5,1,1.5,2,2.5],
            "gridColor": {"condition": {"test": "datum.value % 1 === 0", "value": "#a8a8a8"}, "value": "#e3e3e3"},
            "tickOpacity": {"condition": {"test": "datum.value % 1 === 0", "value": 1}, "value": 0},
            "labelFontSize": {"condition": {"test": "datum.value % 1 === 0", "value": 16}, "value": 0},
            "labelExpr": "datum.value % 1 === 0 ? toString(datum.value) : ''"}}
      }
    },
    {
      "width": 312, "height": 288,
      "title": {"text": "IR15"},
      "data": {"name": "IR15"},
      "mark": {"type": "circle"},
      "encoding": {
        "x": {"field": "x", "type": "quantitative", "scale": {"domain": [-2.88, 2.86], "nice": false, "zero": false},
          "axis": {"title": "N⁻¹ ( F_nc,inc )", "values": [-2.5,-2,-1.5,-1,-0.5,0,0.5,1,1.5,2,2.5],
            "gridColor": {"condition": {"test": "datum.value % 1 === 0", "value": "#a8a8a8"}, "value": "#e3e3e3"},
            "tickOpacity": {"condition": {"test": "datum.value % 1 === 0", "value": 1}, "value": 0},
            "labelFontSize": {"condition": {"test": "datum.value % 1 === 0", "value": 16}, "value": 0},
            "labelExpr": "datum.value % 1 === 0 ? toString(datum.value) : ''"}},
        "y": {"field": "y", "type": "quantitative", "scale": {"domain": [-2.86, 2.88], "nice": false, "zero": false},
          "axis": {"title": "N⁻¹ ( Fᵥ )", "values": [-2.5,-2,-1.5,-1,-0.5,0,0.5,1,1.5,2,2.5],
            "gridColor": {"condition": {"test": "datum.value % 1 === 0", "value": "#a8a8a8"}, "value": "#e3e3e3"},
            "tickOpacity": {"condition": {"test": "datum.value % 1 === 0", "value": 1}, "value": 0},
            "labelFontSize": {"condition": {"test": "datum.value % 1 === 0", "value": 16}, "value": 0},
            "labelExpr": "datum.value % 1 === 0 ? toString(datum.value) : ''"}}
      }
    },
    {
      "width": 312, "height": 288,
      "title": {"text": "IR15_PM"},
      "data": {"name": "IR15_PM"},
      "mark": {"type": "circle"},
      "encoding": {
        "x": {"field": "x", "type": "quantitative", "scale": {"domain": [-2.57, 2.58], "nice": false, "zero": false},
          "axis": {"title": "N⁻¹ ( F_nc,inc )", "values": [-2.5,-2,-1.5,-1,-0.5,0,0.5,1,1.5,2,2.5],
            "gridColor": {"condition": {"test": "datum.value % 1 === 0", "value": "#a8a8a8"}, "value": "#e3e3e3"},
            "tickOpacity": {"condition": {"test": "datum.value % 1 === 0", "value": 1}, "value": 0},
            "labelFontSize": {"condition": {"test": "datum.value % 1 === 0", "value": 16}, "value": 0},
            "labelExpr": "datum.value % 1 === 0 ? toString(datum.value) : ''"}},
        "y": {"field": "y", "type": "quantitative", "scale": {"domain": [-2.54, 2.56], "nice": false, "zero": false},
          "axis": {"title": "N⁻¹ ( Fᵥ )", "values": [-2.5,-2,-1.5,-1,-0.5,0,0.5,1,1.5,2,2.5],
            "gridColor": {"condition": {"test": "datum.value % 1 === 0", "value": "#a8a8a8"}, "value": "#e3e3e3"},
            "tickOpacity": {"condition": {"test": "datum.value % 1 === 0", "value": 1}, "value": 0},
            "labelFontSize": {"condition": {"test": "datum.value % 1 === 0", "value": 16}, "value": 0},
            "labelExpr": "datum.value % 1 === 0 ? toString(datum.value) : ''"}}
      }
    }
  ]
}
